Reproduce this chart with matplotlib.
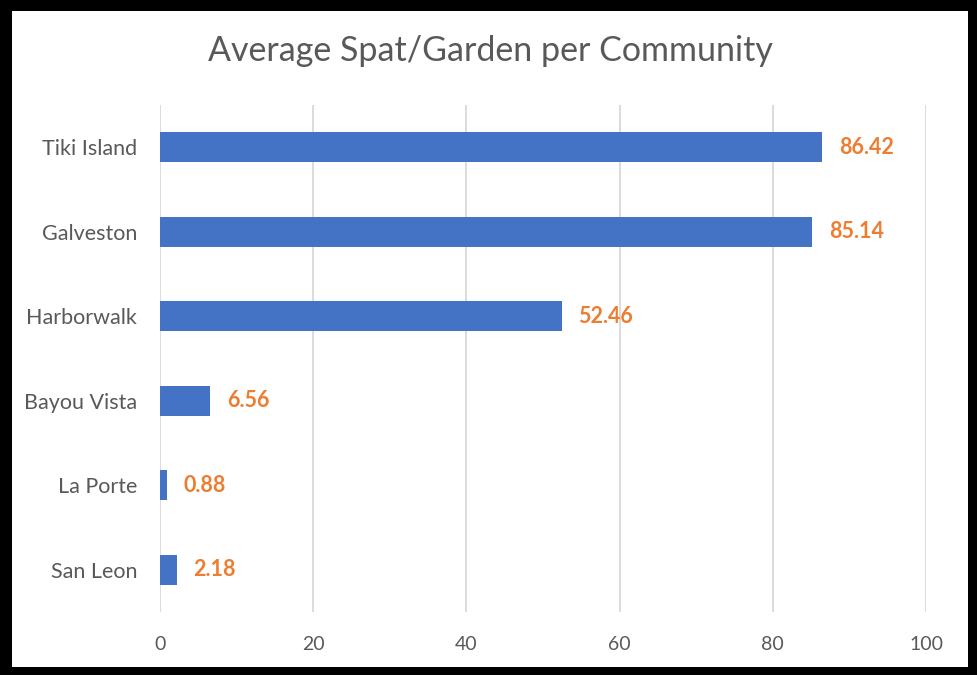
import matplotlib
matplotlib.use('Agg')
import matplotlib.pyplot as plt
from matplotlib.patches import Rectangle

communities = ['Tiki Island', 'Galveston', 'Harborwalk', 'Bayou Vista', 'La Porte', 'San Leon']
avg_spat = [86.42, 85.14, 52.46, 6.56, 0.88, 2.18]

W, H = 978, 675
plt.rcParams['font.family'] = ['Lato', 'DejaVu Sans']

fig = plt.figure(figsize=(W / 100, H / 100), dpi=100)
fig.patch.set_facecolor('black')
# white chart area inside the black frame
fig.patches.append(Rectangle((12 / W, 1 - 667 / H), (968 - 12) / W, (667 - 11) / H,
                             transform=fig.transFigure, facecolor='white', edgecolor='none', zorder=-5))

ax = fig.add_axes([160 / W, 1 - 612 / H, (926 - 160) / W, (612 - 105) / H])
ax.set_zorder(2)
ax.set_facecolor('white')

y = list(range(len(communities)))
ax.barh(y, avg_spat, height=0.355, color='#4472C4', zorder=3)
ax.set_ylim(len(communities) - 0.5, -0.5)
ax.set_yticks(y)
ax.set_yticklabels(communities)
ax.set_xlim(0, 100)
ax.set_xticks(range(0, 101, 20))

for i, v in enumerate(avg_spat):
    ax.annotate(f'{v:.2f}', (v, i), xytext=(12, 0), textcoords='offset points',
                va='center', ha='left', color='#ED7D31', fontsize=15.5, fontweight='bold')

for s in ax.spines.values():
    s.set_visible(False)
ax.grid(axis='x', color='#D9D9D9', linewidth=1.3, zorder=0)
ax.set_axisbelow(True)
ax.tick_params(length=0, colors='#595959')
ax.tick_params(axis='y', pad=16.5, labelsize=15.5)
ax.tick_params(axis='x', pad=17, labelsize=14)

fig.text(490 / W, 1 - 51 / H, 'Average Spat/Garden per Community',
         ha='center', va='center', fontsize=24.5, color='#595959')

fig.savefig('out.png', dpi=100, facecolor=fig.get_facecolor())
